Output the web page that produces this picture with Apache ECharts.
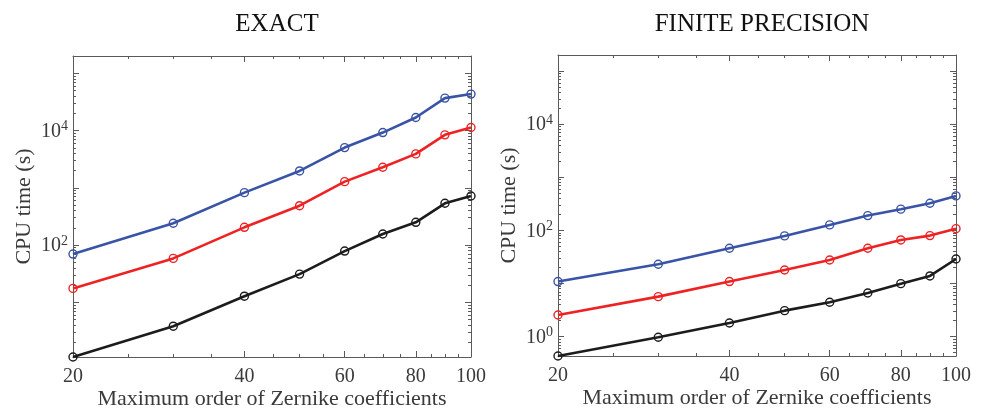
<!DOCTYPE html>
<html>
<head>
<meta charset="utf-8">
<script src="https://cdn.jsdelivr.net/npm/echarts@6/dist/echarts.min.js"></script>
<style>
  html, body { margin: 0; padding: 0; background: #ffffff; }
  #chart { width: 983px; height: 410px; }
</style>
</head>
<body>
<div id="chart"></div>
<script>
// ---- data ----
const orders = [20, 30, 40, 50, 60, 70, 80, 90, 100];

const exactBlue  = [69.6, 240, 822, 1968, 5035, 9205, 16860, 36800, 43250];
const exactRed   = [17.5, 58.5, 204, 487, 1280, 2286, 3906, 8400, 11270];
const exactBlack = [1.11, 3.83, 12.8, 31.1, 78.5, 155.7, 249.5, 536, 719];

const finiteBlue  = [10.9, 23.1, 46.2, 78.8, 127, 190, 251, 325, 446];
const finiteRed   = [2.56, 5.67, 10.9, 18.0, 27.8, 46.2, 66.2, 79.8, 108];
const finiteBlack = [0.433, 0.974, 1.81, 3.09, 4.44, 6.65, 9.96, 13.9, 29.0];

const panelTitles = ['EXACT', 'FINITE PRECISION'];
const xAxisTitle = 'Maximum order of Zernike coefficients';
const yAxisTitle = 'CPU time (s)';

const xMajorTicks = [20, 40, 60, 80, 100];
const xMinorTicks = [25, 30, 35, 45, 50, 55, 65, 70, 75, 85, 90, 95];
const yLabelTicks = [1, 100, 10000];
const yMajorTicks = [0.1, 1, 10, 100, 1000, 10000, 100000];
const yMinorTicks = [];
for (let e = -1; e <= 5; e++) {
  for (let m = 2; m <= 9; m++) yMinorTicks.push(m * Math.pow(10, e));
}

const xRange = [20, 100];
const yRanges = [[1.11, 2e5], [0.433, 2e5]];

// ---- styles ----
const axisColor = '#5a5a5a';
const textColor = '#3a3a3a';
const font = 'Liberation Serif';
const colors = { blue: '#3953a6', red: '#ee2222', black: '#1c1c1c' };

const grids = [
  { left: 73, top: 56, width: 398, height: 301, outerBoundsMode: 'none', containLabel: false },
  { left: 558, top: 55, width: 398, height: 301, outerBoundsMode: 'none', containLabel: false }
];

const chart = echarts.init(document.getElementById('chart'), null, { renderer: 'canvas' });

const xAxes = [], yAxes = [], series = [], titles = [];

function yLabelFormatter(v) {
  const e = Math.round(Math.log10(v));
  return '{b|10}{s|' + e + '}';
}

grids.forEach((g, gi) => {
  titles.push({
    text: panelTitles[gi],
    left: g.left + g.width / 2,
    top: 7,
    textAlign: 'center',
    textStyle: { fontFamily: font, fontSize: 25, fontWeight: 'normal', color: '#111' }
  });

  const xBase = { type: 'log', gridIndex: gi, min: xRange[0], max: xRange[1], splitLine: { show: false } };
  xAxes.push(Object.assign({}, xBase, {
    position: 'bottom',
    name: xAxisTitle,
    nameLocation: 'middle',
    nameGap: 31,
    nameMoveOverlap: false,
    nameTextStyle: { fontFamily: font, fontSize: 22, color: textColor },
    axisLine: { show: true, lineStyle: { color: axisColor, width: 1 } },
    axisTick: { show: true, inside: true, length: 6, customValues: xMajorTicks, lineStyle: { color: axisColor } },
    axisLabel: { show: true, customValues: xMajorTicks, margin: 10, fontFamily: font, fontSize: 20, color: textColor,
      formatter: v => String(Math.round(v)) }
  }));
  xAxes.push(Object.assign({}, xBase, {
    position: 'bottom',
    axisLine: { show: false },
    axisTick: { show: true, inside: true, length: 3, customValues: xMinorTicks, lineStyle: { color: axisColor } },
    axisLabel: { show: false }
  }));
  xAxes.push(Object.assign({}, xBase, {
    position: 'top',
    axisLine: { show: true, lineStyle: { color: axisColor, width: 1 } },
    axisTick: { show: true, inside: true, length: 6, customValues: xMajorTicks, lineStyle: { color: axisColor } },
    axisLabel: { show: false }
  }));
  xAxes.push(Object.assign({}, xBase, {
    position: 'top',
    axisLine: { show: false },
    axisTick: { show: true, inside: true, length: 3, customValues: xMinorTicks, lineStyle: { color: axisColor } },
    axisLabel: { show: false }
  }));

  const yBase = { type: 'log', logBase: 10, gridIndex: gi, min: yRanges[gi][0], max: yRanges[gi][1], splitLine: { show: false } };
  yAxes.push(Object.assign({}, yBase, {
    position: 'left',
    name: yAxisTitle,
    nameLocation: 'middle',
    nameGap: 38,
    nameMoveOverlap: false,
    nameRotate: 90,
    nameTextStyle: { fontFamily: font, fontSize: 22, color: textColor },
    axisLine: { show: true, lineStyle: { color: axisColor, width: 1 } },
    axisTick: { show: true, inside: true, length: 6, customValues: yMajorTicks, lineStyle: { color: axisColor } },
    axisLabel: {
      show: true, customValues: yLabelTicks, margin: 5, formatter: yLabelFormatter,
      rich: {
        b: { fontFamily: font, fontSize: 20, color: textColor, lineHeight: 22, verticalAlign: 'bottom' },
        s: { fontFamily: font, fontSize: 14, color: textColor, lineHeight: 22, verticalAlign: 'top', padding: [0, 0, 12, 0] }
      }
    }
  }));
  yAxes.push(Object.assign({}, yBase, {
    position: 'left',
    axisLine: { show: false },
    axisTick: { show: true, inside: true, length: 3, customValues: yMinorTicks, lineStyle: { color: axisColor } },
    axisLabel: { show: false }
  }));
  yAxes.push(Object.assign({}, yBase, {
    position: 'right',
    axisLine: { show: true, lineStyle: { color: axisColor, width: 1 } },
    axisTick: { show: true, inside: true, length: 6, customValues: yMajorTicks, lineStyle: { color: axisColor } },
    axisLabel: { show: false }
  }));
  yAxes.push(Object.assign({}, yBase, {
    position: 'right',
    axisLine: { show: false },
    axisTick: { show: true, inside: true, length: 3, customValues: yMinorTicks, lineStyle: { color: axisColor } },
    axisLabel: { show: false }
  }));
});

function addSeries(gi, values, color) {
  series.push({
    type: 'line',
    xAxisIndex: gi * 4,
    yAxisIndex: gi * 4,
    data: orders.map((x, i) => [x, values[i]]),
    symbol: 'circle',
    symbolSize: 8,
    showAllSymbol: true,
    clip: false,
    lineStyle: { color: color, width: 2.6 },
    itemStyle: { color: 'rgba(0,0,0,0)', borderColor: color, borderWidth: 1.4 },
    emphasis: { disabled: true },
    animation: false
  });
}
addSeries(0, exactBlue, colors.blue);
addSeries(0, exactRed, colors.red);
addSeries(0, exactBlack, colors.black);
addSeries(1, finiteBlue, colors.blue);
addSeries(1, finiteRed, colors.red);
addSeries(1, finiteBlack, colors.black);

chart.setOption({
  backgroundColor: '#ffffff',
  animation: false,
  title: titles,
  grid: grids,
  xAxis: xAxes,
  yAxis: yAxes,
  series: series
});
</script>
</body>
</html>
